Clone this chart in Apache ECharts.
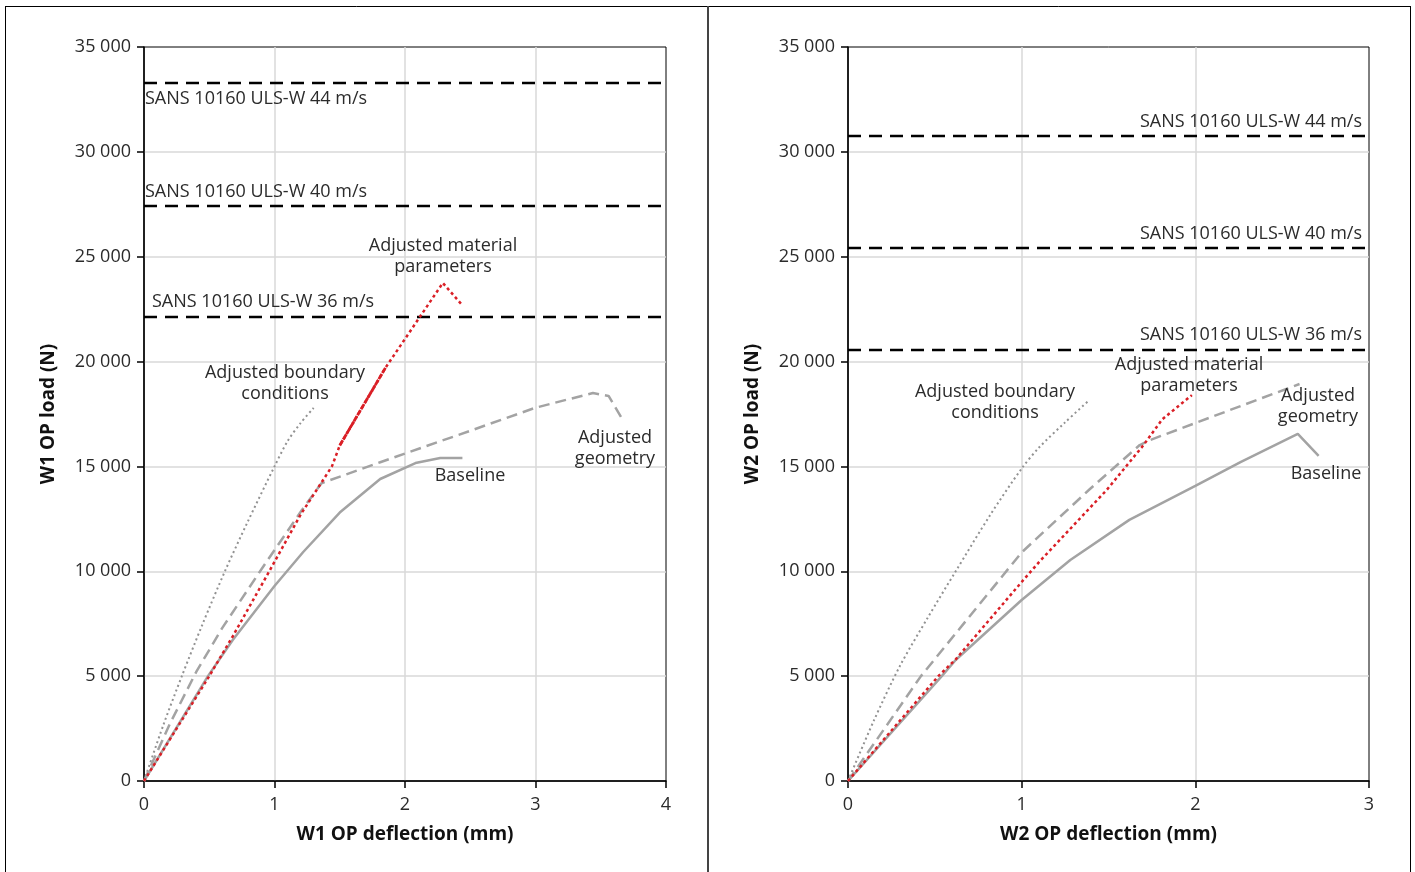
<!DOCTYPE html>
<html>
<head>
<meta charset="utf-8">
<script src="https://cdn.jsdelivr.net/npm/echarts@6/dist/echarts.min.js"></script>
<style>
html,body{margin:0;padding:0;background:#fff;}
#chart{width:1415px;height:872px;}
</style>
</head>
<body>
<div id="chart"></div>
<script>
// ---------- data ----------
const w1Baseline = [[0,0],[0.49,5000],[0.68,6720],[1.0,9300],[1.22,10920],[1.5,12800],[1.81,14400],[2.08,15160],[2.27,15400],[2.44,15400]];
const w1Geometry = [[0,0],[0.2,2750],[0.4,5200],[0.6,7300],[0.9,10100],[1.21,12920],[1.36,14200],[1.81,15200],[2.5,16700],[3.0,17800],[3.44,18500],[3.56,18360],[3.66,17310]];
const w1Boundary = [[0,0],[0.15,2700],[0.29,5000],[0.45,7500],[0.62,10000],[0.79,12300],[1.0,15000],[1.1,16200],[1.2,17070],[1.3,17790]];
const w1Material = [[0,0],[0.5,5000],[0.68,6900],[0.96,10000],[1.2,12700],[1.44,15000],[1.5,16000],[1.85,19700],[2.29,23750],[2.43,22750]];
const w1MaterialDense = [[1.5,16000],[1.85,19700]];
const w1RefLoads = [33280, 27420, 22130];

const w2Baseline = [[0,0],[0.54,5000],[0.62,5770],[1.0,8630],[1.28,10540],[1.62,12450],[2.0,14070],[2.26,15210],[2.59,16550],[2.71,15500]];
const w2Geometry = [[0,0],[0.42,5000],[1.0,10900],[1.39,13900],[1.68,16020],[1.74,16260],[2.0,17070],[2.60,18930]];
const w2Boundary = [[0,0],[0.15,2900],[0.3,5500],[0.46,7800],[0.62,10000],[0.82,12700],[1.0,14900],[1.1,15900],[1.25,17100],[1.39,18170]];
const w2Material = [[0,0],[0.52,5000],[0.62,5800],[1.0,9490],[1.10,10440],[1.49,13880],[1.70,16000],[1.81,17250],[1.98,18400]];
const w2RefLoads = [30760, 25420, 20550];

const refLabels = ['SANS 10160 ULS-W 44 m/s','SANS 10160 ULS-W 40 m/s','SANS 10160 ULS-W 36 m/s'];
const curveLabels = ['Adjusted material\nparameters','Adjusted boundary\nconditions','Adjusted\ngeometry','Baseline'];
const xMax = [4, 3];
const xTitles = ['W1 OP deflection (mm)','W2 OP deflection (mm)'];
const yTitles = ['W1 OP load (N)','W2 OP load (N)'];

// ---------- styles ----------
const FONT = "'Open Sans', 'Noto Sans', sans-serif";
const TXT = '#2b2b2b';
const GRAY = '#a3a3a3';
const RED = '#da1f26';

function fmt(v){ return v === 0 ? '0' : (v/1000) + ' 000'; }

function xAxisDef(i){
  return {
    type:'value', gridIndex:i, min:0, max:xMax[i], interval:1,
    name:xTitles[i], nameLocation:'middle', nameGap:44,
    nameTextStyle:{fontFamily:FONT, fontWeight:'bold', fontSize:19, color:'#111'},
    axisLine:{onZero:false, lineStyle:{color:'#000', width:1.5}},
    axisTick:{show:true, length:7, lineStyle:{color:'#000', width:1.5}},
    axisLabel:{fontFamily:FONT, fontSize:18, color:TXT, margin:15},
    splitLine:{show:true, showMinLine:false, showMaxLine:false, lineStyle:{color:'#d9d9d9', width:1.5}}
  };
}
function yAxisDef(i){
  return {
    type:'value', gridIndex:i, min:0, max:35000, interval:5000,
    name:yTitles[i], nameLocation:'middle', nameGap:86, nameRotate:90,
    nameTextStyle:{fontFamily:FONT, fontWeight:'bold', fontSize:19, color:'#111'},
    axisLine:{show:true, onZero:false, lineStyle:{color:'#000', width:1.5}},
    axisTick:{show:true, length:7, lineStyle:{color:'#000', width:1.5}},
    axisLabel:{fontFamily:FONT, fontSize:18, color:TXT, margin:13, formatter:fmt},
    splitLine:{show:true, showMinLine:false, showMaxLine:false, lineStyle:{color:'#d9d9d9', width:1.5}}
  };
}
function lineSeries(data, i, color, width, type, z, smooth){
  return {type:'line', xAxisIndex:i, yAxisIndex:i, data:data, showSymbol:false, symbol:'none', smooth:smooth||false,
    lineStyle:{color:color, width:width, type:type, cap:'butt'}, z:z||2, silent:true};
}
function refSeries(load, i){
  return lineSeries([[0,load],[xMax[i],load]], i, '#000', 2.5, [13,8], 3);
}

const series = [
  lineSeries(w1Boundary, 0, '#929292', 2, [2,3], 2, 0.3),
  lineSeries(w1Baseline, 0, GRAY, 2.5, 'solid'),
  lineSeries(w1Geometry, 0, GRAY, 2.5, [11,6]),
  lineSeries(w1Material, 0, RED, 2.5, [3,3], 4),
  lineSeries(w1MaterialDense, 0, RED, 2.8, [6,1], 4),
  lineSeries(w2Boundary, 1, '#929292', 2, [2,3], 2, 0.3),
  lineSeries(w2Baseline, 1, GRAY, 2.5, 'solid'),
  lineSeries(w2Geometry, 1, GRAY, 2.5, [11,6]),
  lineSeries(w2Material, 1, RED, 2.5, [3,3], 4)
];
w1RefLoads.forEach(v => series.push(refSeries(v, 0)));
w2RefLoads.forEach(v => series.push(refSeries(v, 1)));

function txt(text, x, y, align){
  return {type:'text', z:10, silent:true, style:{text:text, x:x, y:y, align:align||'center', verticalAlign:'middle',
    font:'18px ' + FONT, fill:TXT, lineHeight:21}};
}
function ln(x1,y1,x2,y2,color,w){
  return {type:'line', z:10, silent:true, shape:{x1:x1,y1:y1,x2:x2,y2:y2}, style:{stroke:color, lineWidth:w}};
}

const graphic = [
  ln(5,6.5,1410,6.5,'#000',1),
  ln(5.5,6,5.5,872,'#000',1),
  ln(1410.5,6,1410.5,872,'#000',1),
  ln(708,6,708,872,'#444',2),
  // left panel labels
  txt(refLabels[0], 145, 99, 'left'),
  txt(refLabels[1], 145, 192, 'left'),
  txt(refLabels[2], 152, 302, 'left'),
  txt(curveLabels[0], 443, 256),
  txt(curveLabels[1], 285, 383),
  txt(curveLabels[2], 615, 448),
  txt(curveLabels[3], 470, 476),
  // right panel labels
  txt(refLabels[0], 1362, 122, 'right'),
  txt(refLabels[1], 1362, 234, 'right'),
  txt(refLabels[2], 1362, 335, 'right'),
  txt(curveLabels[1], 995, 402),
  txt(curveLabels[0], 1189, 375),
  txt(curveLabels[2], 1318, 406),
  txt(curveLabels[3], 1326, 474)
];

const chart = echarts.init(document.getElementById('chart'), null, {renderer:'canvas'});
chart.setOption({
  animation:false,
  backgroundColor:'#fff',
  grid:[
    {left:144, top:47, width:522, height:734, show:true, borderColor:'#000', borderWidth:1, backgroundColor:'transparent'},
    {left:848, top:47, width:521, height:734, show:true, borderColor:'#000', borderWidth:1, backgroundColor:'transparent'}
  ],
  xAxis:[xAxisDef(0), xAxisDef(1)],
  yAxis:[yAxisDef(0), yAxisDef(1)],
  series:series,
  graphic:graphic
});
</script>
</body>
</html>
